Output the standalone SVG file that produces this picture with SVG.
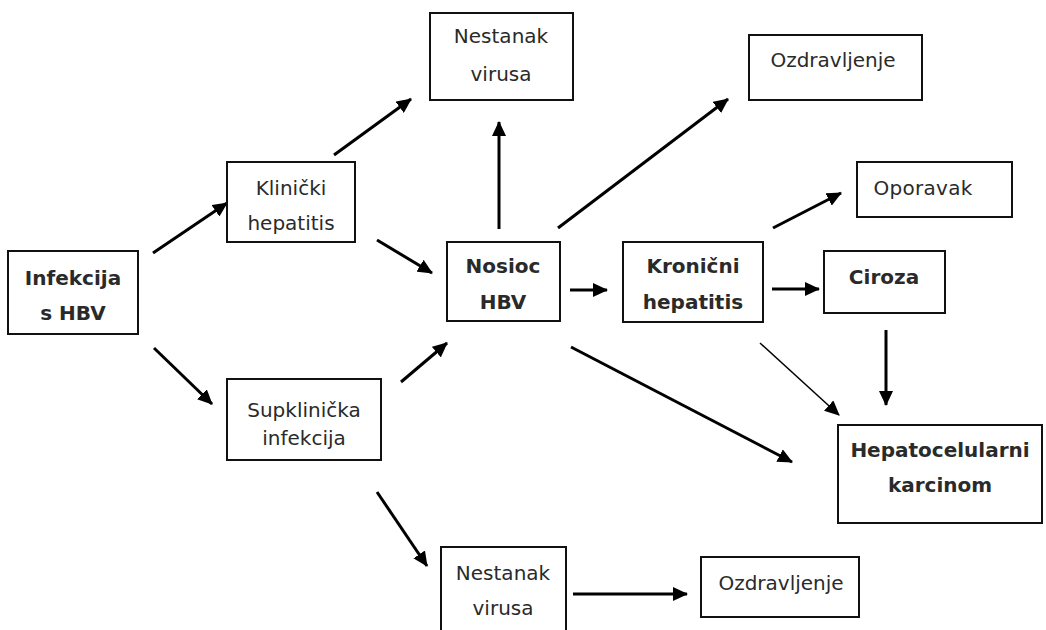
<svg xmlns="http://www.w3.org/2000/svg" width="1046" height="630" viewBox="0 0 1046 630">
<defs>
<style>
.box{fill:#fff;stroke:#111;stroke-width:2}
.t{font-family:"DejaVu Sans",Verdana,sans-serif;font-size:20px;fill:#2a2a2a;text-anchor:middle}
.b{font-weight:bold}
.c{stroke:#000;stroke-width:3;fill:none;marker-end:url(#ah)}
.thin{stroke-width:1.5}
</style>
<marker id="ah" viewBox="0 0 15 14" refX="14" refY="7" markerWidth="15" markerHeight="14" markerUnits="userSpaceOnUse" orient="auto">
<path d="M0,0 L15,7 L0,14 Z" fill="#000"/>
</marker>
</defs>
<rect width="1046" height="630" fill="#fff"/>
<g id="connectors">
<line class="c" x1="153" y1="253" x2="227" y2="203"/>
<line class="c" x1="154" y1="348" x2="212" y2="404"/>
<line class="c" x1="334" y1="155" x2="411" y2="99"/>
<line class="c" x1="377" y1="240" x2="432" y2="273"/>
<line class="c" x1="401" y1="382" x2="447" y2="343"/>
<line class="c" x1="377" y1="492" x2="427" y2="566"/>
<line class="c" x1="499" y1="229" x2="499" y2="122"/>
<line class="c" x1="558" y1="228" x2="728" y2="99"/>
<line class="c" x1="570" y1="290" x2="607" y2="290"/>
<line class="c" x1="571" y1="347" x2="792" y2="462"/>
<line class="c" x1="773" y1="228" x2="841" y2="193"/>
<line class="c" x1="772" y1="289" x2="819" y2="289"/>
<line class="c thin" x1="760" y1="343" x2="839" y2="415"/>
<line class="c" x1="886" y1="330" x2="886" y2="405"/>
<line class="c" x1="573" y1="594" x2="687" y2="594"/>
</g>
<g id="infekcija">
<rect class="box" x="8" y="251" width="130" height="83"/>
<text class="t b" x="73" y="285">Infekcija</text>
<text class="t b" x="73" y="320">s HBV</text>
</g>
<g id="klinicki">
<rect class="box" x="227" y="162" width="128" height="80"/>
<text class="t" x="291" y="195">Klinički</text>
<text class="t" x="291" y="230">hepatitis</text>
</g>
<g id="nestanak-top">
<rect class="box" x="430" y="13" width="143" height="87"/>
<text class="t" x="501" y="43">Nestanak</text>
<text class="t" x="501" y="81">virusa</text>
</g>
<g id="ozdravljenje-top">
<rect class="box" x="749" y="35" width="173" height="65"/>
<text class="t" x="833" y="67">Ozdravljenje</text>
</g>
<g id="oporavak">
<rect class="box" x="857" y="162" width="155" height="55"/>
<text class="t" x="923" y="195" letter-spacing="0.3">Oporavak</text>
</g>
<g id="nosioc">
<rect class="box" x="447" y="242" width="113" height="79"/>
<text class="t b" x="503" y="273">Nosioc</text>
<text class="t b" x="503" y="309">HBV</text>
</g>
<g id="kronicni">
<rect class="box" x="623" y="242" width="140" height="80"/>
<text class="t b" x="693" y="273">Kronični</text>
<text class="t b" x="693" y="309">hepatitis</text>
</g>
<g id="ciroza">
<rect class="box" x="824" y="251" width="121" height="62"/>
<text class="t b" x="884" y="284">Ciroza</text>
</g>
<g id="hepatocelularni">
<rect class="box" x="838" y="425" width="204" height="98"/>
<text class="t b" x="940" y="457">Hepatocelularni</text>
<text class="t b" x="940" y="492">karcinom</text>
</g>
<g id="supklinicka">
<rect class="box" x="227" y="379" width="154" height="81"/>
<text class="t" x="304" y="417">Supklinička</text>
<text class="t" x="304" y="445">infekcija</text>
</g>
<g id="nestanak-bottom">
<rect class="box" x="441" y="547" width="125" height="90"/>
<text class="t" x="503" y="580">Nestanak</text>
<text class="t" x="503" y="615">virusa</text>
</g>
<g id="ozdravljenje-bottom">
<rect class="box" x="701" y="557" width="158" height="60"/>
<text class="t" x="781" y="590">Ozdravljenje</text>
</g>
</svg>
